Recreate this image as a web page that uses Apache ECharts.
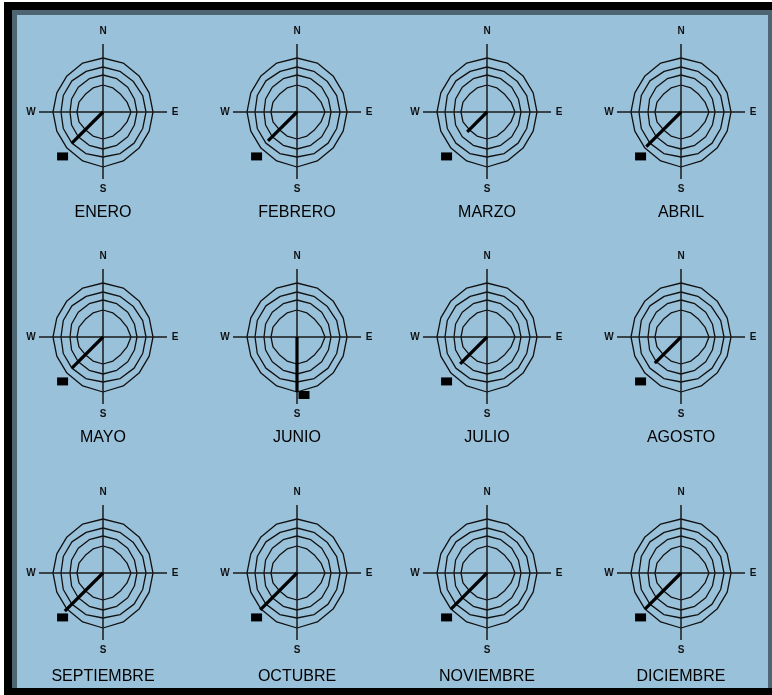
<!DOCTYPE html>
<html>
<head>
<meta charset="utf-8">
<script src="https://cdn.jsdelivr.net/npm/echarts@6/dist/echarts.min.js"></script>
<style>
  html, body { margin: 0; padding: 0; background: #ffffff; }
  #frame { position: absolute; left: 4px; top: 2px; width: 760px; height: 678px;
           border-left: 8px solid #000; border-top: 8px solid #000; border-bottom: 7px solid #000; }
  #inner { position: absolute; left: 0; top: 0; right: 0; bottom: 0;
           border-left: 5px solid #4d6672; border-top: 5px solid #4d6672; border-right: 4px solid #4d6672;
           background: #99c1da; }
  #chart { position: absolute; left: 0; top: 0; width: 772px; height: 695px; }
</style>
</head>
<body>
<div id="frame"><div id="inner"></div></div>
<div id="chart"></div>
<script>
// ---- data ----
const months = ['ENERO', 'FEBRERO', 'MARZO', 'ABRIL', 'MAYO', 'JUNIO',
                'JULIO', 'AGOSTO', 'SEPTIEMBRE', 'OCTUBRE', 'NOVIEMBRE', 'DICIEMBRE'];
// prevailing wind direction (degrees clockwise from N) and length of the bar
const windDir = [225, 225, 225, 225, 225, 180, 225, 225, 225, 225, 225, 225];
const windLen = [44, 41, 28, 49, 44, 55, 38, 37, 54, 52, 51, 51];
// compass labels
const compassLabels = ['N', 'E', 'S', 'W'];
const compassAngles = [0, 90, 180, 270];
// 16 directions of the frequency rings
const ringDirs = [0, 22.5, 45, 67.5, 90, 112.5, 135, 157.5, 180, 202.5, 225, 247.5, 270, 292.5, 315, 337.5];
const ring1 = [27, 26, 25, 26, 28, 26, 25, 26, 27, 26, 25, 26, 26, 26, 25, 26];
const ring2 = [37, 36, 35, 34, 34, 34, 35, 36, 37, 36, 35, 34, 33, 34, 35, 36];
const ring3 = [45, 44, 43, 43, 43, 43, 44, 45, 45, 45, 44, 43, 42, 43, 44, 44];
const ring4 = [54, 53, 51, 50, 50, 50, 51, 53, 55, 53, 51, 50, 50, 50, 51, 53];
const rings = [ring1, ring2, ring3, ring4];

// ---- layout (styles) ----
const colX = [103, 297, 487, 681];
const rowY = [112, 337, 573];
const labelDist = [101, 101, 104];
const R = 110;
const axisNS = [68, 67];
const axisEW = [64, 64];
const compassDist = [81, 72, 77, 72];
const markerDist = 60;
const FONT = "'Liberation Sans', Arial, sans-serif";

const polar = [], angleAxis = [], radiusAxis = [], series = [];

months.forEach((m, i) => {
  const col = i % 4, row = Math.floor(i / 4);
  polar.push({ center: [colX[col], rowY[row]], radius: R });
  angleAxis.push({ polarIndex: i, type: 'value', min: 0, max: 360, startAngle: 90, clockwise: true, show: false });
  radiusAxis.push({ polarIndex: i, type: 'value', min: 0, max: R, show: false });

  rings.forEach(rg => {
    const pts = ringDirs.map((a, k) => [rg[k], a]);
    pts.push([rg[0], ringDirs[0]]);
    series.push({
      type: 'line', coordinateSystem: 'polar', polarIndex: i, data: pts,
      symbol: 'none', silent: true, clip: false,
      lineStyle: { color: '#111', width: 1.3, opacity: 1 }
    });
  });

  // cross axes
  series.push({
    type: 'line', coordinateSystem: 'polar', polarIndex: i,
    data: [[axisNS[0], 0], [axisNS[1], 180]], symbol: 'none', silent: true, clip: false,
    lineStyle: { color: '#1a1a1a', width: 1.5, opacity: 1 }
  });
  series.push({
    type: 'line', coordinateSystem: 'polar', polarIndex: i,
    data: [[axisEW[0], 90], [axisEW[1], 270]], symbol: 'none', silent: true, clip: false,
    lineStyle: { color: '#1a1a1a', width: 1.5, opacity: 1 }
  });

  // prevailing wind bar
  series.push({
    type: 'line', coordinateSystem: 'polar', polarIndex: i,
    data: [[0, windDir[i]], [windLen[i], windDir[i]]], symbol: 'none', silent: true, clip: false,
    lineStyle: { color: '#000', width: 3.2, opacity: 1 }
  });

  // marker square
  const off = windDir[i] === 180 ? [7, -2] : [2, 2];
  series.push({
    type: 'scatter', coordinateSystem: 'polar', polarIndex: i,
    data: [[markerDist, windDir[i]]], symbol: 'rect', symbolSize: [11, 8], symbolOffset: off,
    silent: true, itemStyle: { color: '#000', opacity: 1 }
  });

  // compass labels
  series.push({
    type: 'scatter', coordinateSystem: 'polar', polarIndex: i,
    data: compassLabels.map((t, k) => ({ value: [compassDist[k], compassAngles[k]], name: t })),
    symbolSize: 0, silent: true, itemStyle: { opacity: 1 },
    label: { show: true, position: 'inside', formatter: p => p.name,
             fontFamily: FONT, fontSize: 10, fontWeight: 'bold', color: '#111', opacity: 1 }
  });

  // month label
  series.push({
    type: 'scatter', coordinateSystem: 'polar', polarIndex: i,
    data: [{ value: [labelDist[row], 180], name: m }],
    symbolSize: 0, silent: true, itemStyle: { opacity: 1 },
    label: { show: true, position: 'inside', formatter: p => p.name,
             fontFamily: FONT, fontSize: 16, color: '#000', opacity: 1 }
  });
});

const chart = echarts.init(document.getElementById('chart'), null, { renderer: 'canvas' });
chart.setOption({
  animation: false,
  backgroundColor: 'transparent',
  polar, angleAxis, radiusAxis, series
});
</script>
</body>
</html>
